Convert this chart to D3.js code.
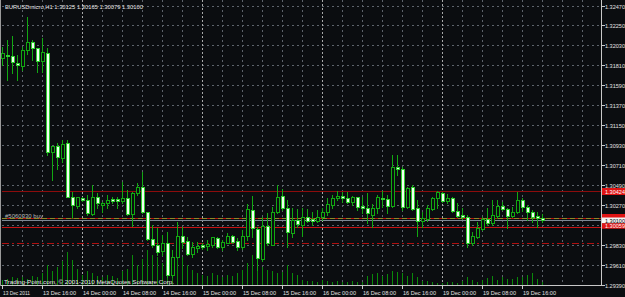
<!DOCTYPE html>
<html><head><meta charset="utf-8">
<script src="https://cdn.jsdelivr.net/npm/d3@7"></script>
<style>
html,body{margin:0;padding:0;background:#0b0d10;}
svg{display:block;}
text{font-family:"Liberation Sans",Arial,sans-serif;}
</style></head><body>
<svg id="c" width="625" height="297"></svg>
<script>
// ---- data (EURUSDmicro H1, bar 0 = 13 Dec 2011 08:00) ----
const opens = [1.31890,1.31924,1.31913,1.31835,1.31802,1.31979,1.32067,1.32001,1.31857,1.31946,
1.30853,1.30919,1.30787,1.30952,1.30356,1.30257,1.30345,1.30323,1.30169,1.30356,
1.30268,1.30290,1.30334,1.30334,1.30312,1.30345,1.30169,1.30400,1.30467,1.30191,
1.29894,1.29828,1.29762,1.29850,1.29497,1.29696,1.29927,1.29872,1.29729,1.29795,
1.29828,1.29817,1.29828,1.29905,1.29806,1.29850,1.29927,1.29872,1.29806,1.29927,
1.30213,1.30004,1.29674,1.30037,1.29828,1.30191,1.30367,1.30235,1.29960,1.30103,
1.30048,1.30136,1.30114,1.30092,1.30136,1.30191,1.30268,1.30345,1.30367,1.30345,
1.30301,1.30356,1.30257,1.30235,1.30158,1.30235,1.30345,1.30334,1.30257,1.30687,
1.30665,1.30246,1.30467,1.30235,1.30092,1.30114,1.30224,1.30345,1.30400,1.30312,
1.30345,1.30202,1.30158,1.30136,1.29850,1.29916,1.30004,1.30114,1.30070,1.30147,
1.30257,1.30224,1.30147,1.30191,1.30323,1.30246,1.30191,1.30147,1.30125];
const highs = [1.32012,1.32089,1.32133,1.31924,1.32012,1.32343,1.32089,1.32001,1.32111,1.32001,
1.30919,1.30952,1.30985,1.30985,1.30411,1.30356,1.30356,1.30378,1.30489,1.30400,
1.30301,1.30378,1.30356,1.30356,1.30522,1.30433,1.30411,1.30511,1.30632,1.30191,
1.30048,1.30015,1.29938,1.29971,1.29773,1.30081,1.30026,1.29916,1.29861,1.29861,
1.29850,1.29883,1.29916,1.29916,1.29883,1.29960,1.29938,1.29905,1.29993,1.30279,
1.30367,1.30026,1.30136,1.30180,1.30246,1.30489,1.30444,1.30323,1.30235,1.30224,
1.30235,1.30224,1.30191,1.30213,1.30235,1.30345,1.30378,1.30422,1.30411,1.30411,
1.30367,1.30356,1.30356,1.30400,1.30279,1.30378,1.30422,1.30378,1.30820,1.30820,
1.30687,1.30467,1.30489,1.30323,1.30191,1.30268,1.30356,1.30422,1.30411,1.30389,
1.30356,1.30290,1.30235,1.30158,1.29971,1.30081,1.30136,1.30235,1.30323,1.30323,
1.30301,1.30235,1.30246,1.30411,1.30345,1.30268,1.30213,1.30191,1.30165];
const lows = [1.31813,1.31648,1.31725,1.31648,1.31758,1.31935,1.31868,1.31736,1.31736,1.30820,
1.30544,1.30665,1.30742,1.30356,1.30125,1.30235,1.30312,1.30158,1.30158,1.30235,
1.30191,1.30235,1.30290,1.30235,1.30290,1.30158,1.30037,1.30378,1.30180,1.29883,
1.29806,1.29718,1.29718,1.29475,1.29475,1.29685,1.29795,1.29718,1.29696,1.29751,
1.29784,1.29773,1.29806,1.29795,1.29773,1.29850,1.29850,1.29773,1.29784,1.29883,
1.29916,1.29552,1.29652,1.29828,1.29828,1.30180,1.30213,1.29806,1.29916,1.30026,
1.29927,1.30081,1.30048,1.30081,1.30103,1.30158,1.30235,1.30323,1.30301,1.30290,
1.30268,1.30213,1.30180,1.30070,1.30026,1.30180,1.30246,1.30180,1.30246,1.30599,
1.30213,1.30235,1.30213,1.29927,1.30026,1.30092,1.30213,1.30235,1.30301,1.30290,
1.30191,1.30136,1.30114,1.29806,1.29828,1.29905,1.29993,1.30048,1.30048,1.30125,
1.30213,1.30015,1.30136,1.30180,1.30202,1.30103,1.30081,1.30026,1.30079];
const closes = [1.31946,1.31913,1.31846,1.31813,1.31979,1.32067,1.32001,1.31857,1.31957,1.30853,
1.30919,1.30798,1.30941,1.30356,1.30268,1.30356,1.30323,1.30180,1.30356,1.30290,
1.30290,1.30323,1.30312,1.30312,1.30345,1.30169,1.30400,1.30467,1.30191,1.29894,
1.29828,1.29751,1.29850,1.29497,1.29696,1.29927,1.29861,1.29729,1.29806,1.29817,
1.29806,1.29839,1.29916,1.29806,1.29861,1.29927,1.29861,1.29806,1.29927,1.30224,
1.30015,1.29685,1.30037,1.29850,1.30191,1.30356,1.30235,1.29971,1.30103,1.30059,
1.30136,1.30092,1.30092,1.30136,1.30191,1.30279,1.30345,1.30367,1.30345,1.30301,
1.30356,1.30246,1.30235,1.30180,1.30235,1.30356,1.30334,1.30257,1.30687,1.30665,
1.30246,1.30455,1.30224,1.30092,1.30125,1.30235,1.30345,1.30411,1.30312,1.30345,
1.30202,1.30147,1.30136,1.29850,1.29927,1.30015,1.30114,1.30070,1.30158,1.30257,
1.30224,1.30147,1.30191,1.30323,1.30246,1.30191,1.30136,1.30125,1.30100];
const volumes = [125,150,200,175,200,150,225,200,300,500,
350,450,600,825,625,400,250,350,300,225,
200,250,225,175,350,400,750,500,650,875,
750,700,550,1000,750,800,700,500,375,300,
250,225,300,250,200,250,225,300,375,550,
750,625,450,375,350,300,325,500,300,250,
125,100,100,75,125,100,75,100,75,75,
100,75,75,225,275,300,225,275,350,325,
300,225,300,200,100,100,75,50,50,75,
75,50,100,200,125,75,125,175,225,125,
200,150,150,200,200,250,300,150,75];
const priceTicks = [1.32470,1.32250,1.32030,1.31810,1.31590,1.31370,1.31150,1.30930,1.30710,1.30490,1.30270,1.30050,1.29830,1.29610,1.29390];
const timeLabelBars = [0,8,16,24,32,40,48,56,64,72,80,88,96,104];
const timeLabels = ["13 Dec 2011","13 Dec 16:00","14 Dec 00:00","14 Dec 08:00","14 Dec 16:00","15 Dec 00:00","15 Dec 08:00","15 Dec 16:00","16 Dec 00:00","16 Dec 08:00","16 Dec 16:00","19 Dec 00:00","19 Dec 08:00","19 Dec 16:00"];
const daySeparatorBars = [16,40,64,88];
const titleText = "EURUSDmicro,H1  1.30125 1.30165 1.30079 1.30100";
const copyrightText = "Trading-Point.com, \u00a9 2001-2010 MetaQuotes Software Corp.";
const orderText = "#5060330 buy";
const tpLevel = 1.30424, orderLevel = 1.30121, bidLevel = 1.30100, slLevel = 1.30022, dashLevel = 1.29845;
const slLabel = "1.30059";

// ---- drawing ----
const svg = d3.select("#c");
const W = 625, H = 297, right = 601, bottom = 285;
const x = d3.scaleLinear().domain([0, 120]).range([2, 602]);
const y = d3.scaleLinear().domain([1.29390, 1.32470]).range([284.5, 5.5]);
const v = d3.scaleLinear().domain([0, 1000]).range([0, 40]);
const py = p => Math.round(y(p));

svg.append("rect").attr("width", W).attr("height", H).attr("fill", "#0b0d10");

// grid
const grid = svg.append("g");
grid.selectAll("line.h").data(priceTicks).join("line")
  .attr("x1", 2).attr("x2", right).attr("y1", d => py(d) + 0.5).attr("y2", d => py(d) + 0.5)
  .attr("stroke", "#5d636b").attr("stroke-dasharray", "2,3");
const vBars = d3.range(4, 120, 4).filter(b => !daySeparatorBars.includes(b));
grid.selectAll("line.v").data(vBars).join("line")
  .attr("x1", d => x(d) + 0.5).attr("x2", d => x(d) + 0.5).attr("y1", 0).attr("y2", bottom)
  .attr("stroke", "#5d636b").attr("stroke-dasharray", "2,3");
grid.selectAll("line.sep").data(daySeparatorBars).join("line")
  .attr("x1", d => x(d) + 0.5).attr("x2", d => x(d) + 0.5).attr("y1", 0).attr("y2", bottom)
  .attr("stroke", "#a8a8a8").attr("stroke-dasharray", "2,2");

// volumes
const idx = d3.range(opens.length);
svg.append("g").selectAll("line").data(idx).join("line")
  .attr("x1", i => x(i) + 0.5).attr("x2", i => x(i) + 0.5)
  .attr("y1", bottom).attr("y2", i => bottom - Math.round(v(volumes[i])))
  .attr("stroke", "#0a8a0a");

// horizontal object lines
const lines = svg.append("g");
function hline(p, color, dash) {
  const l = lines.append("line").attr("x1", 2).attr("x2", right)
    .attr("y1", py(p) + 0.5).attr("y2", py(p) + 0.5).attr("stroke", color);
  if (dash) l.attr("stroke-dasharray", dash);
}
hline(tpLevel, "#8c0c0c");
hline(orderLevel, "#b81010");
hline(orderLevel, "#8a8a28", "5,3");
hline(bidLevel, "#7d8894");
hline(slLevel, "#c81212");
hline(dashLevel, "#b01010", "7,3,2,3");

// candles
const cg = svg.append("g");
const wickColor = "#12a812";
cg.selectAll("line").data(idx).join("line")
  .attr("x1", i => x(i) + 0.5).attr("x2", i => x(i) + 0.5)
  .attr("y1", i => py(highs[i])).attr("y2", i => py(lows[i]) + 1)
  .attr("stroke", wickColor);
cg.selectAll("rect").data(idx).join("rect")
  .attr("x", i => x(i) - 0.5).attr("width", 3)
  .attr("y", i => py(Math.max(opens[i], closes[i])) + 0.5)
  .attr("height", i => Math.max(1, py(Math.min(opens[i], closes[i])) - py(Math.max(opens[i], closes[i]))))
  .attr("fill", i => closes[i] < opens[i] ? "#f2fff2" : "#0b0d10")
  .attr("stroke", i => closes[i] < opens[i] ? "#30d030" : wickColor);

// frame
svg.append("line").attr("x1", right + 0.5).attr("x2", right + 0.5).attr("y1", 0).attr("y2", bottom + 1).attr("stroke", "#c8c8c8");
svg.append("line").attr("x1", 0).attr("x2", right + 1).attr("y1", bottom + 0.5).attr("y2", bottom + 0.5).attr("stroke", "#c8c8c8");
svg.append("line").attr("x1", 0.5).attr("x2", 0.5).attr("y1", 0).attr("y2", bottom + 1).attr("stroke", "#9a9a9a");

// price axis (the 1.30050 label is covered by the order/bid/stop boxes in the original)
const shownTicks = priceTicks.filter(d => Math.abs(d - 1.30050) > 1e-6);
const pa = svg.append("g");
pa.selectAll("line").data(priceTicks).join("line")
  .attr("x1", right + 1).attr("x2", right + 4).attr("y1", d => py(d) + 0.5).attr("y2", d => py(d) + 0.5).attr("stroke", "#c8c8c8");
pa.selectAll("text").data(shownTicks).join("text")
  .attr("x", 605).attr("y", d => py(d) + 2.5).attr("font-size", 5.6).attr("fill", "#e2e2e2")
  .attr("textLength", 20).attr("lengthAdjust", "spacingAndGlyphs")
  .text(d => d.toFixed(5));

// price boxes
function box(p, fill, tcol, label, dy, h) {
  const yc = py(p) + 0.5 + dy;
  svg.append("rect").attr("x", 602).attr("y", yc - h / 2).attr("width", 23).attr("height", h).attr("fill", fill);
  if (label) svg.append("text").attr("x", 605).attr("y", yc + 2).attr("font-size", 5.4).attr("fill", tcol)
    .attr("textLength", 20).attr("lengthAdjust", "spacingAndGlyphs").text(label);
}
box(tpLevel, "#e01414", "#ffffff", tpLevel.toFixed(5), 0, 7);
box(orderLevel, "#e01414", null, null, -1, 7);
box(bidLevel, "#f4f4f4", "#000000", bidLevel.toFixed(5), 0, 6);
box(slLevel, "#e01414", "#ffffff", slLabel, -1.5, 5.5);

// time axis
const ta = svg.append("g");
ta.selectAll("line").data(timeLabelBars).join("line")
  .attr("x1", d => x(d) + 0.5).attr("x2", d => x(d) + 0.5).attr("y1", bottom + 1).attr("y2", bottom + 4).attr("stroke", "#c8c8c8");
ta.selectAll("text").data(timeLabelBars).join("text")
  .attr("x", d => x(d) + 1).attr("y", 294.5).attr("font-size", 5.6).attr("fill", "#e2e2e2")
  .attr("textLength", (d, i) => i === 0 ? 27 : 33).attr("lengthAdjust", "spacingAndGlyphs")
  .text((d, i) => timeLabels[i]);

// texts
svg.append("text").attr("x", 5).attr("y", 8.5).attr("font-size", 5.8).attr("fill", "#e6e6e6")
  .attr("textLength", 138).attr("lengthAdjust", "spacingAndGlyphs").text(titleText);
svg.append("text").attr("x", 4).attr("y", 283.5).attr("font-size", 5.6).attr("fill", "#e6e6e6")
  .attr("textLength", 170).attr("lengthAdjust", "spacingAndGlyphs").text(copyrightText);
svg.append("text").attr("x", 5).attr("y", py(orderLevel) - 0.5).attr("font-size", 5.6).attr("fill", "#b8b8b8")
  .attr("textLength", 38).attr("lengthAdjust", "spacingAndGlyphs").text(orderText);
</script>
</body></html>
